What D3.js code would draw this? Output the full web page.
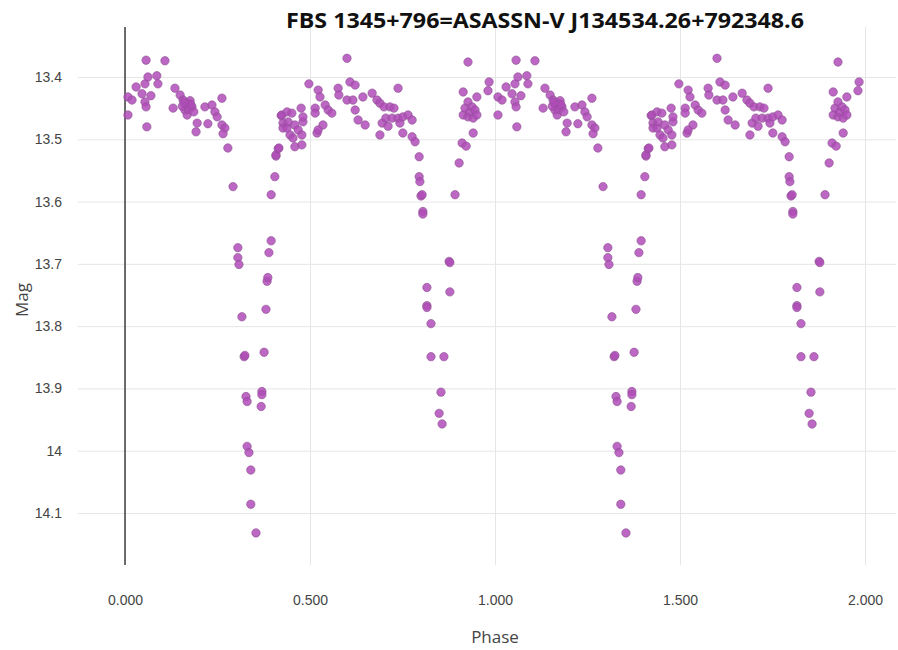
<!DOCTYPE html>
<html>
<head>
<meta charset="utf-8">
<script src="https://cdn.jsdelivr.net/npm/d3@7"></script>
<style>
  body { margin: 0; background: #fff; }
  svg { display: block; font-family: "Open Sans", sans-serif; }
  .grid line { stroke: #e6e6e6; }
  .grid path { display: none; }
  .grid text { fill: #444; font-size: 14px; }
</style>
</head>
<body>
<svg width="898" height="650"></svg>
<script>
const title = "FBS 1345+796=ASASSN-V J134534.26+792348.6";

// one cycle of the folded light curve, phase 0..1 (plotted twice)
const phase = [
  0.008, 0.019, 0.008, 0.030, 0.046, 0.054, 0.054, 0.057, 0.057, 0.059,
  0.062, 0.070, 0.086, 0.089, 0.108, 0.130, 0.135, 0.149, 0.157, 0.162,
  0.168, 0.170, 0.181, 0.176, 0.165, 0.155, 0.192, 0.195, 0.216, 0.224,
  0.235, 0.243, 0.249, 0.262, 0.262, 0.270, 0.265, 0.278, 0.292,
  0.305, 0.305, 0.308, 0.316, 0.322, 0.324, 0.327, 0.330, 0.330, 0.335,
  0.340, 0.340, 0.354,
  0.368, 0.370, 0.370, 0.376, 0.381, 0.384, 0.386, 0.389, 0.395, 0.395,
  0.405, 0.408, 0.408, 0.414, 0.416, 0.422, 0.424, 0.427, 0.427, 0.438,
  0.438, 0.441, 0.446, 0.451, 0.454, 0.459, 0.459, 0.468, 0.476, 0.478,
  0.478, 0.481, 0.481, 0.497, 0.514, 0.514, 0.519, 0.522, 0.522, 0.527,
  0.535, 0.541, 0.549, 0.559, 0.576, 0.578, 0.600, 0.600, 0.608, 0.616,
  0.622, 0.622, 0.630, 0.643, 0.649, 0.668, 0.681, 0.689, 0.689, 0.695,
  0.700, 0.705, 0.711, 0.716, 0.722, 0.727, 0.738, 0.738, 0.743, 0.751,
  0.751, 0.765, 0.776, 0.776, 0.784, 0.795, 0.795, 0.797, 0.800, 0.803,
  0.805, 0.805, 0.816, 0.816, 0.816, 0.827, 0.827, 0.849, 0.854, 0.857,
  0.862, 0.876, 0.878, 0.878, 0.892, 0.903, 0.911, 0.914, 0.914, 0.919,
  0.922, 0.927, 0.927, 0.927, 0.932, 0.938, 0.941, 0.941, 0.946, 0.951,
  0.951, 0.981, 0.984, 0.172, 0.178, 0.186, 0.160
];
const mag = [
  13.432, 13.437, 13.461, 13.416, 13.427, 13.411, 13.440, 13.373, 13.448, 13.480,
  13.400, 13.430, 13.398, 13.411, 13.374, 13.450, 13.418, 13.429, 13.437, 13.453,
  13.461, 13.442, 13.448, 13.438, 13.445, 13.447, 13.488, 13.474, 13.448, 13.475,
  13.445, 13.456, 13.464, 13.434, 13.477, 13.482, 13.491, 13.514, 13.576,
  13.674, 13.690, 13.701, 13.785, 13.849, 13.847, 13.913, 13.921, 13.993, 14.003,
  14.031, 14.086, 14.132,
  13.929, 13.905, 13.910, 13.842, 13.773, 13.728, 13.722, 13.682, 13.663, 13.589,
  13.560, 13.527, 13.525, 13.515, 13.514, 13.462, 13.461, 13.474, 13.482, 13.456,
  13.482, 13.472, 13.493, 13.458, 13.498, 13.477, 13.512, 13.485, 13.450, 13.493,
  13.509, 13.472, 13.464, 13.411, 13.450, 13.458, 13.490, 13.421, 13.485, 13.432,
  13.477, 13.445, 13.453, 13.458, 13.418, 13.429, 13.370, 13.437, 13.408, 13.437,
  13.413, 13.453, 13.469, 13.432, 13.477, 13.426, 13.437, 13.442, 13.493, 13.474,
  13.448, 13.466, 13.479, 13.448, 13.466, 13.450, 13.418, 13.466, 13.474, 13.464,
  13.490, 13.461, 13.469, 13.496, 13.504, 13.528, 13.560, 13.568, 13.591, 13.589,
  13.616, 13.620, 13.738, 13.767, 13.770, 13.796, 13.849, 13.940, 13.906, 13.957,
  13.849, 13.696, 13.698, 13.745, 13.589, 13.538, 13.506, 13.424, 13.461, 13.450,
  13.511, 13.376, 13.440, 13.464, 13.456, 13.448, 13.466, 13.490, 13.453, 13.432,
  13.461, 13.422, 13.408, 13.452, 13.444, 13.456, 13.441
];
const cycles = [0, 1];

const xTicks = [0, 0.5, 1, 1.5, 2];
const xTickLabels = ["0.000", "0.500", "1.000", "1.500", "2.000"];
const yTicks = [13.4, 13.5, 13.6, 13.7, 13.8, 13.9, 14, 14.1];
const yTickLabels = ["13.4", "13.5", "13.6", "13.7", "13.8", "13.9", "14", "14.1"];

const svg = d3.select("svg");
const plot = { left: 78, right: 896, top: 27, bottom: 565 };

const x = d3.scaleLinear().domain([0, 2]).range([125, 865]);
const y = d3.scaleLinear().domain([13.4, 14.1]).range([77, 513]);

const points = [];
cycles.forEach(c => phase.forEach((p, i) => points.push({ p: p + c, m: mag[i] })));

// horizontal grid + y labels
svg.append("g")
    .attr("class", "grid")
    .attr("transform", `translate(${plot.left},0)`)
    .call(d3.axisLeft(y)
        .tickValues(yTicks)
        .tickFormat((d, i) => yTickLabels[i])
        .tickSize(-(plot.right - plot.left))
        .tickPadding(16));

// vertical grid + x labels
svg.append("g")
    .attr("class", "grid")
    .attr("transform", `translate(0,${plot.bottom})`)
    .call(d3.axisBottom(x)
        .tickValues(xTicks)
        .tickFormat((d, i) => xTickLabels[i])
        .tickSize(-(plot.bottom - plot.top))
        .tickPadding(30));

// zero line
svg.append("line")
    .attr("x1", x(0)).attr("x2", x(0))
    .attr("y1", plot.top).attr("y2", plot.bottom)
    .attr("stroke", "#222")
    .attr("stroke-width", 1.3);

svg.append("g")
    .selectAll("circle")
    .data(points)
    .enter().append("circle")
    .attr("cx", d => x(d.p))
    .attr("cy", d => y(d.m))
    .attr("r", 4.2)
    .attr("fill", "#b04cb8")
    .attr("fill-opacity", 0.85)
    .attr("stroke", "#8c4f90")
    .attr("stroke-width", 0.6);

svg.append("text")
    .attr("x", 545).attr("y", 28)
    .attr("text-anchor", "middle")
    .attr("font-size", 22)
    .attr("font-weight", "bold")
    .attr("fill", "#111")
    .attr("textLength", 518)
    .attr("lengthAdjust", "spacingAndGlyphs")
    .text(title);

svg.append("text")
    .attr("transform", "translate(28,300) rotate(-90)")
    .attr("text-anchor", "middle")
    .attr("font-size", 17)
    .attr("fill", "#444")
    .text("Mag");

svg.append("text")
    .attr("x", 495).attr("y", 643)
    .attr("text-anchor", "middle")
    .attr("font-size", 17)
    .attr("fill", "#444")
    .text("Phase");
</script>
</body>
</html>
